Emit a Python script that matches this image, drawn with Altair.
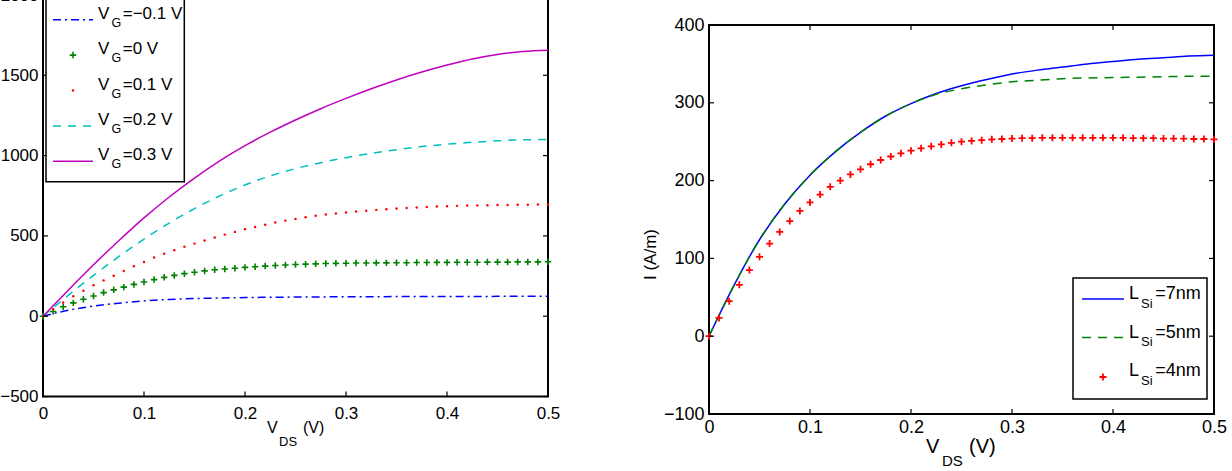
import altair as alt
import pandas as pd

# ---------------- data ----------------
# drain-source voltage grids (V)
VDS_COARSE = [0.0, 0.025, 0.05, 0.075, 0.1, 0.125, 0.15, 0.175, 0.2, 0.225, 0.25,
              0.275, 0.3, 0.325, 0.35, 0.375, 0.4, 0.425, 0.45, 0.475, 0.5]
VDS_FINE = [0.0, 0.01, 0.02, 0.03, 0.04, 0.05, 0.06, 0.07, 0.08, 0.09, 0.1,
            0.11, 0.12, 0.13, 0.14, 0.15, 0.16, 0.17, 0.18, 0.19, 0.2,
            0.21, 0.22, 0.23, 0.24, 0.25, 0.26, 0.27, 0.28, 0.29, 0.3,
            0.31, 0.32, 0.33, 0.34, 0.35, 0.36, 0.37, 0.38, 0.39, 0.4,
            0.41, 0.42, 0.43, 0.44, 0.45, 0.46, 0.47, 0.48, 0.49, 0.5]

# left panel: current for several gate voltages
I_VG_M01 = [0, 37, 63, 81, 95, 104, 110, 113, 116, 118, 119, 120, 121, 121.5, 122,
            122.5, 123, 123, 123.5, 124, 124]
I_VG_0 = [0, 29, 59, 83, 106, 126, 147, 164, 181, 198, 213,
          228, 242, 254, 265, 274, 282, 289, 294, 299, 304,
          308, 312, 316, 319, 322, 324, 326, 328, 329, 330,
          331, 331, 332, 332, 333, 333, 334, 334, 335, 335,
          336, 336, 336, 337, 337, 337, 338, 338, 338, 339]
I_VG_01 = [0, 44, 85, 124, 159, 193, 223, 252, 282, 311, 338,
           365, 389, 411, 432, 452, 471, 490, 508, 525, 541,
           556, 570, 583, 595, 606, 616, 625, 633, 640, 646,
           652, 657, 662, 666, 670, 674, 677, 680, 683, 685,
           687, 689, 690, 691, 692, 693, 694, 694, 695, 695]
I_VG_02 = [0, 130, 254, 371, 480, 580, 670, 749, 817, 874, 919, 956, 987, 1014, 1037,
           1056, 1071, 1083, 1092, 1098, 1101]
I_VG_03 = [0, 162, 320, 470, 612, 742, 860, 967, 1062, 1146, 1222, 1292, 1356, 1416,
           1471, 1520, 1564, 1602, 1630, 1648, 1656]

# right panel: current for several silicon lengths
I_L7 = [0, 66, 124, 170, 207, 237, 262, 283, 299, 312, 322, 330, 337, 342, 346, 350,
        353, 356, 358, 360, 361]
I_L5 = [0, 66, 124, 170, 207, 237, 262, 283, 299, 311, 318, 323, 327, 329, 331, 332,
        332.5, 333, 333.5, 334, 334]
I_L4 = [0, 23.5, 45, 66, 85, 102, 119, 134, 148, 161, 172,
        182, 192, 200, 208, 214.5, 221, 226.5, 231, 235, 238.5,
        241.5, 244, 246.5, 248.5, 250, 251, 252, 253, 253.5, 254,
        254.5, 254.5, 255, 255, 255, 255, 255, 255, 255, 255,
        255, 254.5, 254.5, 254.5, 254, 254, 254, 253.5, 253.5, 253]

X_TICKS = [0, 0.1, 0.2, 0.3, 0.4, 0.5]
Y_TICKS_LEFT = [-500, 0, 500, 1000, 1500, 2000]
Y_TICKS_RIGHT = [-100, 0, 100, 200, 300, 400]

LEFT_LEGEND = ["=\u22120.1 V", "=0 V", "=0.1 V", "=0.2 V", "=0.3 V"]
RIGHT_LEGEND = ["=7nm", "=5nm", "=4nm"]

# ---------------- style ----------------
FONT = "Liberation Sans"
BLUE, GREEN, RED, CYAN, MAGENTA = "#0000ff", "#008000", "#ff0000", "#00bfbf", "#bf00bf"
PLUS = "M-1,0L1,0M0,-1L0,1"
DASHDOT = [8, 4, 2, 4]
DASH = [8, 7]

LW, LH = 505, 401.5
RW, RH = 505, 389
ONE = pd.DataFrame({"k": [0]})


def make_enc(ydom, yticks, size, xpad, ytitle=None, ytitle_y=None):
    xs = alt.Scale(domain=[0, 0.5], nice=False, zero=False)
    ys = alt.Scale(domain=ydom, nice=False, zero=False)
    common = dict(labelFont=FONT, labelFontSize=size, labelColor="black", ticks=False,
                  domain=False, grid=False, labelFlush=False, labelOverlap=False)
    xax = alt.Axis(values=X_TICKS, format="~g", labelPadding=xpad, title=None, **common)
    if ytitle:
        yax = alt.Axis(values=yticks, format="d", labelPadding=5, title=ytitle,
                       titleFont=FONT, titleFontSize=17, titleFontWeight="normal",
                       titleColor="black", titlePadding=4, titleY=ytitle_y, **common)
    else:
        yax = alt.Axis(values=yticks, format="d", labelPadding=5, title=None, **common)

    def X():
        return alt.X("vds:Q", scale=xs, axis=xax)

    def Y():
        return alt.Y("i:Q", scale=ys, axis=yax)
    return X, Y


def series(xs, ys):
    return pd.DataFrame({"vds": xs, "i": ys})


def frame_ticks(X, Y, yticks, w, h, n=5):
    tx = pd.DataFrame({"vds": X_TICKS})
    ty = pd.DataFrame({"i": yticks})
    st = dict(color="black", strokeWidth=1.2)
    return [
        alt.Chart(tx).mark_rule(**st).encode(x=X(), y=alt.value(h), y2=alt.value(h - n)),
        alt.Chart(tx).mark_rule(**st).encode(x=X(), y=alt.value(0), y2=alt.value(n)),
        alt.Chart(ty).mark_rule(**st).encode(y=Y(), x=alt.value(0), x2=alt.value(n)),
        alt.Chart(ty).mark_rule(**st).encode(y=Y(), x=alt.value(w), x2=alt.value(w - n)),
    ]


def txt(s, x, y, size):
    return alt.Chart(ONE).mark_text(text=s, font=FONT, fontSize=size, align="left",
                                    baseline="alphabetic", color="black").encode(
        x=alt.value(x), y=alt.value(y))


def swatch_line(color, x0, x1, y, dash=None):
    kw = dict(color=color, strokeWidth=1.5)
    if dash:
        kw["strokeDash"] = dash
    return alt.Chart(ONE).mark_rule(**kw).encode(x=alt.value(x0), x2=alt.value(x1), y=alt.value(y))


def swatch_plus(color, x, y, size, sw):
    return alt.Chart(ONE).mark_point(shape=PLUS, filled=False, color=color, size=size,
                                     strokeWidth=sw, opacity=1).encode(x=alt.value(x), y=alt.value(y))


def swatch_dot(color, x, y):
    return alt.Chart(ONE).mark_circle(color=color, size=6, opacity=1).encode(
        x=alt.value(x), y=alt.value(y))


def box(x0, x1, y0, y1):
    return alt.Chart(ONE).mark_rect(fill="white", stroke="black", strokeWidth=1.5).encode(
        x=alt.value(x0), x2=alt.value(x1), y=alt.value(y0), y2=alt.value(y1))


# ---------------- left panel ----------------
XL, YL = make_enc([-500, 2000], Y_TICKS_LEFT, 17, 9)

left_layers = [
    alt.Chart(series(VDS_COARSE, I_VG_M01)).mark_line(
        color=BLUE, strokeWidth=1.5, strokeDash=DASHDOT, interpolate="monotone").encode(x=XL(), y=YL()),
    alt.Chart(series(VDS_FINE, I_VG_0)).mark_point(
        shape=PLUS, filled=False, color=GREEN, size=42, strokeWidth=1.6, opacity=1).encode(x=XL(), y=YL()),
    alt.Chart(series(VDS_FINE, I_VG_01)).mark_circle(
        color=RED, size=6, opacity=1).encode(x=XL(), y=YL()),
    alt.Chart(series(VDS_COARSE, I_VG_02)).mark_line(
        color=CYAN, strokeWidth=1.5, strokeDash=DASH, interpolate="monotone").encode(x=XL(), y=YL()),
    alt.Chart(series(VDS_COARSE, I_VG_03)).mark_line(
        color=MAGENTA, strokeWidth=1.5, interpolate="monotone").encode(x=XL(), y=YL()),
]
left_layers += frame_ticks(XL, YL, Y_TICKS_LEFT, LW, LH)

# legend (top-left)
left_layers.append(box(3, 141.3, -4, 186.7))
for k, lab in enumerate(LEFT_LEGEND):
    base = 23.7 + 35.4 * k
    sy = 24.7 + 35.4 * k
    if k == 0:
        left_layers.append(swatch_line(BLUE, 10, 50, sy, DASHDOT))
    elif k == 1:
        left_layers.append(swatch_plus(GREEN, 30, sy, 42, 1.6))
    elif k == 2:
        left_layers.append(swatch_dot(RED, 30, sy))
    elif k == 3:
        left_layers.append(swatch_line(CYAN, 10, 50, sy, DASH))
    else:
        left_layers.append(swatch_line(MAGENTA, 10, 50, sy))
    left_layers += [txt("V", 55, base, 17), txt("G", 68.5, base + 8, 12.5), txt(lab, 79.7, base, 17)]

# x-axis title with subscript
left_layers += [txt("V", 224, 437.7, 16), txt("DS", 236, 450.7, 13), txt("(V)", 260, 437.7, 16)]

left = alt.layer(*left_layers).properties(
    width=LW, height=LH, view=alt.ViewBackground(stroke="black", strokeWidth=2))

# ---------------- right panel ----------------
XR, YR = make_enc([-100, 400], Y_TICKS_RIGHT, 18, 4, ytitle="I (A/m)", ytitle_y=229)

right_layers = [
    alt.Chart(series(VDS_COARSE, I_L7)).mark_line(
        color=BLUE, strokeWidth=1.5, interpolate="monotone").encode(x=XR(), y=YR()),
    alt.Chart(series(VDS_COARSE, I_L5)).mark_line(
        color=GREEN, strokeWidth=1.5, strokeDash=[9, 7], interpolate="monotone").encode(x=XR(), y=YR()),
    alt.Chart(series(VDS_FINE, I_L4)).mark_point(
        shape=PLUS, filled=False, color=RED, size=49, strokeWidth=1.8, opacity=1).encode(x=XR(), y=YR()),
]
right_layers += frame_ticks(XR, YR, Y_TICKS_RIGHT, RW, RH)

right_layers.append(box(364, 498, 253, 374))
for k, lab in enumerate(RIGHT_LEGEND):
    base = 274 + 38.5 * k
    if k == 0:
        right_layers.append(swatch_line(BLUE, 373, 415, base))
    elif k == 1:
        right_layers.append(swatch_line(GREEN, 373, 415, base, [9, 7]))
    else:
        right_layers.append(swatch_plus(RED, 394, base + 1, 49, 1.8))
    right_layers += [txt("L", 420, base, 18), txt("Si", 432, base + 8.5, 13), txt(lab, 446.3, base, 18)]

right_layers += [txt("V", 217, 428, 20), txt("DS", 233, 441, 15), txt("(V)", 260, 428, 20)]

right = alt.layer(*right_layers).properties(
    width=RW, height=RH, view=alt.ViewBackground(stroke="black", strokeWidth=2))

spacer = alt.Chart(ONE).mark_rect(opacity=0).encode(
    x=alt.value(0), x2=alt.value(1), y=alt.value(0), y2=alt.value(1)).properties(width=RW, height=19)

chart = alt.hconcat(left, alt.vconcat(spacer, right, spacing=0), spacing=79).properties(
    padding={"left": -2, "top": -15, "right": 0, "bottom": 0},
    background="white",
).configure_view(stroke="transparent")

chart.save("out.html", embed_options={"renderer": "svg", "actions": False})
